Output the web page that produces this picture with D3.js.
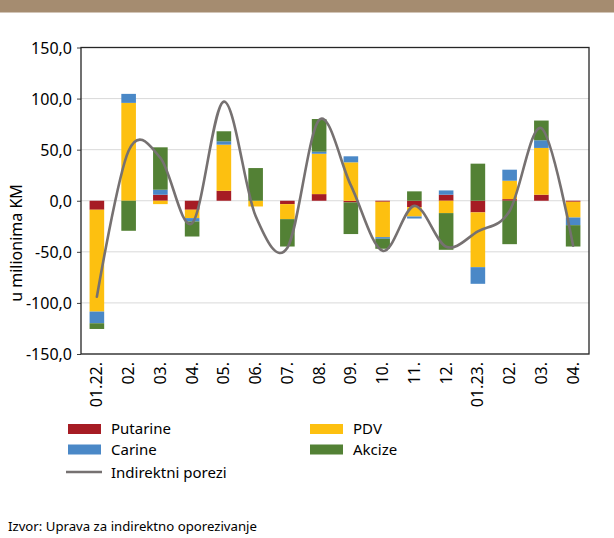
<!DOCTYPE html>
<html>
<head>
<meta charset="utf-8">
<script src="https://cdn.jsdelivr.net/npm/d3@7"></script>
<style>
  body { margin: 0; background: #fff; }
  svg { display: block; font-family: "Noto Sans", sans-serif; }
</style>
</head>
<body>
<div id="chart"></div>
<script>
const months = ['01.22.', '02.', '03.', '04.', '05.', '06.', '07.', '08.', '09.', '10.', '11.', '12.', '01.23.', '02.', '03.', '04.'];
const putarine = [-8.8, 0, 5.9, -8.8, 9.8, 0, -3.3, 6.5, -1.6, -1, -6.2, 5.9, -11.4, 1.6, 5.9, -1];
const pdv = [-99.7, 95.8, -3.3, -8.2, 45.1, -5.6, -14.7, 39.5, 37.6, -34.6, -9.2, -12.1, -53.6, 18, 45.8, -15.4];
const carine = [-11.4, 8.8, 4.9, -3.3, 3.3, 0, 0, 2, 5.9, -1.6, -2, 4.2, -16.3, 10.8, 7.5, -7.5];
const akcize = [-5.6, -29.4, 41.5, -14.7, 9.8, 32, -26.8, 32, -31, -9.8, 9.2, -35.9, 36.3, -42.5, 19.3, -20.9];
const indirektni = [-94, 49, 42, -22, 97, -15, -46, 79, 15, -49, -5, -45, -30, -10, 71, -44];
const yTicks = [-150, -100, -50, 0, 50, 100, 150];

const seriesNames = ['Putarine', 'PDV', 'Carine', 'Akcize'];
const seriesData = [putarine, pdv, carine, akcize];
const colorOf = { Putarine: '#A61C24', PDV: '#FDC010', Carine: '#4A88C7', Akcize: '#538135' };

const fullWidth = 614;
const fullHeight = 538;
const plot = { left: 81, right: 589, top: 47.5, bottom: 354 };

const svg = d3.select('#chart')
  .append('svg')
  .attr('width', fullWidth)
  .attr('height', fullHeight);

// top band
svg.append('rect')
  .attr('x', 0).attr('y', 0)
  .attr('width', fullWidth).attr('height', 12.5)
  .attr('fill', '#A58C70');

const rows = months.map((m, i) => {
  const r = { i: i };
  seriesNames.forEach((s, k) => r[s] = seriesData[k][i]);
  return r;
});

const xScale = d3.scaleBand()
  .domain(d3.range(months.length))
  .range([plot.left, plot.right])
  .paddingInner(0.54)
  .paddingOuter(0.27);

const yScale = d3.scaleLinear()
  .domain([-150, 150])
  .range([plot.bottom, plot.top]);

// gridlines
svg.append('g')
  .selectAll('line')
  .data(yTicks)
  .enter()
  .append('line')
  .attr('x1', plot.left).attr('x2', plot.right)
  .attr('y1', d => yScale(d)).attr('y2', d => yScale(d))
  .attr('stroke', '#d9d9d9')
  .attr('stroke-width', 1);

// y axis
const yAxis = d3.axisLeft(yScale)
  .tickValues(yTicks)
  .tickSize(4)
  .tickFormat(d => d3.format('.1f')(d).replace('.', ',').replace('\u2212', '-'));

const yG = svg.append('g')
  .attr('transform', `translate(${plot.left}, 0)`)
  .call(yAxis);
yG.select('.domain').remove();
yG.selectAll('line').attr('stroke', '#404040');
yG.selectAll('text')
  .attr('x', -9)
  .attr('dy', '0.35em')
  .style('font-family', '"Noto Sans", sans-serif')
  .style('font-size', '16px')
  .attr('fill', '#000');

// stacked bars
const stack = d3.stack()
  .keys(seriesNames)
  .offset(d3.stackOffsetDiverging);

const stacked = stack(rows);

svg.append('g')
  .selectAll('g')
  .data(stacked)
  .enter()
  .append('g')
  .attr('fill', d => colorOf[d.key])
  .selectAll('rect')
  .data(d => d)
  .enter()
  .append('rect')
  .attr('x', d => xScale(d.data.i))
  .attr('width', xScale.bandwidth())
  .attr('y', d => yScale(Math.max(d[0], d[1])))
  .attr('height', d => Math.abs(yScale(d[0]) - yScale(d[1])));

// line (Excel-like smoothing)
const line = d3.line()
  .x((d, i) => xScale(i) + xScale.bandwidth() / 2)
  .y(d => yScale(d))
  .curve(d3.curveCatmullRom.alpha(0));

svg.append('path')
  .datum(indirektni)
  .attr('d', line)
  .attr('fill', 'none')
  .attr('stroke', '#767171')
  .attr('stroke-width', 2.6)
  .attr('stroke-linecap', 'round');

// frame
svg.append('rect')
  .attr('x', plot.left).attr('y', plot.top)
  .attr('width', plot.right - plot.left)
  .attr('height', plot.bottom - plot.top)
  .attr('fill', 'none')
  .attr('stroke', '#262626')
  .attr('stroke-width', 1.3);

// x labels
svg.append('g')
  .selectAll('text')
  .data(months)
  .enter()
  .append('text')
  .attr('transform', (d, i) => `translate(${xScale(i) + xScale.bandwidth() / 2 + 5.5}, 362) rotate(-90)`)
  .attr('text-anchor', 'end')
  .style('font-size', '16px')
  .attr('fill', '#000')
  .text(d => d);

// y title
svg.append('text')
  .attr('transform', 'translate(22, 243) rotate(-90)')
  .attr('text-anchor', 'middle')
  .style('font-size', '16px')
  .attr('fill', '#000')
  .text('u milionima KM');

// legend
const legendItems = [
  { name: 'Putarine', x: 68, y: 424 },
  { name: 'PDV', x: 310, y: 424 },
  { name: 'Carine', x: 68, y: 444.5 },
  { name: 'Akcize', x: 310, y: 444.5 }
];

const legend = svg.append('g');
legend.selectAll('rect')
  .data(legendItems)
  .enter()
  .append('rect')
  .attr('x', d => d.x).attr('y', d => d.y)
  .attr('width', 33).attr('height', 10)
  .attr('fill', d => colorOf[d.name]);

legend.selectAll('text')
  .data(legendItems)
  .enter()
  .append('text')
  .attr('x', d => d.x + 43)
  .attr('y', d => d.y + 10)
  .style('font-size', '15px')
  .attr('fill', '#000')
  .text(d => d.name);

legend.append('line')
  .attr('x1', 66).attr('x2', 102)
  .attr('y1', 472).attr('y2', 472)
  .attr('stroke', '#767171')
  .attr('stroke-width', 2.6);

legend.append('text')
  .attr('x', 111)
  .attr('y', 478)
  .style('font-size', '15px')
  .attr('fill', '#000')
  .text('Indirektni porezi');

// source
svg.append('text')
  .attr('x', 8)
  .attr('y', 531)
  .style('font-size', '13.2px')
  .attr('fill', '#000')
  .text('Izvor: Uprava za indirektno oporezivanje');
</script>
</body>
</html>
